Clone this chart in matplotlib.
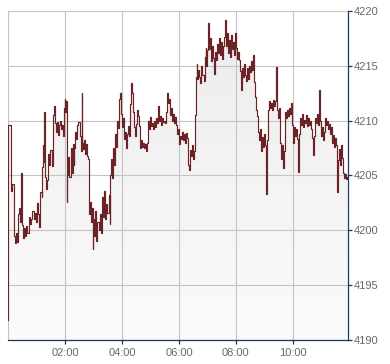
import numpy as np
import matplotlib
matplotlib.use("Agg")
import matplotlib.pyplot as plt
from matplotlib.colors import LinearSegmentedColormap

# minutes since 00:00 and index level
minutes = [0, 1, 6, 7, 9, 12, 13, 15, 17, 19, 21, 23, 25, 27, 29, 32, 34, 36, 38, 41,
           44, 46, 48, 51, 54, 57, 60, 62, 64, 66, 68, 71, 72, 74, 75, 76, 78, 81, 83, 85,
           87, 89, 92, 94, 95, 97, 99, 101, 103, 105, 107, 109, 111, 114, 115, 117, 119, 121, 123, 124,
           125, 127, 129, 132, 134, 136, 138, 140, 142, 144, 146, 148, 151, 153, 155, 156, 158, 160, 162, 164,
           166, 168, 170, 172, 174, 176, 178, 180, 182, 184, 186, 188, 191, 193, 195, 197, 199, 201, 203, 205,
           207, 209, 212, 214, 215, 217, 219, 221, 223, 225, 227, 229, 232, 234, 236, 238, 240, 242, 244, 246,
           248, 250, 253, 255, 257, 259, 261, 263, 265, 267, 269, 271, 274, 276, 278, 280, 282, 284, 286, 288,
           290, 293, 295, 297, 299, 301, 303, 305, 307, 309, 311, 314, 316, 318, 320, 322, 324, 326, 328, 330,
           333, 335, 337, 339, 341, 343, 345, 347, 349, 352, 354, 356, 358, 360, 362, 364, 366, 368, 370, 373,
           375, 377, 379, 381, 383, 385, 387, 389, 391, 394, 395, 397, 399, 401, 403, 405, 407, 409, 412, 414,
           416, 418, 420, 422, 423, 425, 427, 429, 432, 434, 436, 438, 440, 442, 444, 446, 448, 450, 453, 455,
           457, 459, 461, 463, 465, 467, 469, 471, 474, 476, 478, 480, 482, 484, 486, 488, 490, 492, 495, 497,
           499, 501, 503, 505, 507, 509, 511, 513, 516, 518, 520, 522, 524, 526, 528, 530, 532, 535, 537, 539,
           541, 543, 545, 547, 549, 551, 554, 556, 558, 560, 562, 564, 566, 568, 570, 573, 575, 577, 579, 581,
           583, 585, 587, 590, 592, 594, 596, 598, 600, 602, 604, 606, 608, 611, 613, 615, 617, 619, 621, 623,
           625, 627, 629, 632, 634, 636, 638, 640, 642, 644, 646, 648, 650, 653, 655, 657, 659, 661, 663, 665,
           667, 669, 672, 674, 676, 678, 680, 682, 684, 686, 688, 690, 693, 695, 697, 699, 701, 703, 705, 707,
           709, 711, 714]
level = [4191.8, 4209.6, 4204.9, 4203.6, 4204.2, 4203.8, 4199.5, 4198.8, 4199.8, 4198.9, 4201.5, 4202.0, 4200.8, 4205.2, 4200.5, 4199.3, 4200.2, 4199.5, 4200.4, 4199.8,
         4201.2, 4200.6, 4201.0, 4201.8, 4201.0, 4201.6, 4200.8, 4202.5, 4201.5, 4200.3, 4203.5, 4203.0, 4205.8, 4207.8, 4206.2, 4210.8, 4204.9, 4203.8, 4204.6, 4207.0,
         4206.0, 4207.3, 4205.9, 4206.6, 4210.5, 4211.3, 4209.8, 4209.0, 4209.9, 4208.7, 4209.6, 4210.0, 4209.2, 4209.6, 4208.6, 4211.2, 4212.0, 4210.8, 4211.8, 4202.6,
         4205.0, 4206.7, 4204.9, 4207.5, 4205.2, 4207.9, 4206.0, 4207.5, 4209.0, 4208.3, 4209.6, 4209.9, 4208.6, 4207.2, 4212.5, 4208.0, 4207.4, 4208.2, 4207.0, 4207.9,
         4206.8, 4206.5, 4201.5, 4202.6, 4200.8, 4202.0, 4198.3, 4201.0, 4199.5, 4201.8, 4199.0, 4200.8, 4200.0, 4201.5, 4199.8, 4200.5, 4203.0, 4201.2, 4203.6, 4201.0,
         4202.4, 4201.6, 4203.2, 4200.6, 4205.0, 4206.5, 4204.8, 4207.5, 4206.0, 4208.8, 4207.6, 4210.0, 4209.3, 4212.0, 4212.5, 4210.6, 4209.4, 4210.2, 4208.3, 4209.0,
         4207.5, 4208.8, 4209.5, 4208.6, 4211.5, 4213.4, 4212.5, 4210.8, 4209.4, 4208.6, 4209.7, 4211.0, 4210.4, 4209.5, 4207.5, 4208.2, 4207.6, 4208.0, 4207.5, 4207.9,
         4207.2, 4208.0, 4210.0, 4209.2, 4210.3, 4209.5, 4209.8, 4209.2, 4210.0, 4209.4, 4210.2, 4209.8, 4211.3, 4210.0, 4210.4, 4209.6, 4210.2, 4209.9, 4210.0, 4209.8,
         4210.8, 4212.5, 4211.6, 4212.0, 4210.5, 4211.2, 4210.0, 4210.6, 4209.8, 4210.3, 4209.6, 4208.8, 4209.2, 4207.9, 4208.6, 4208.3, 4209.0, 4208.2, 4208.8, 4208.0,
         4208.9, 4208.4, 4206.0, 4205.5, 4207.3, 4206.8, 4207.8, 4206.5, 4207.2, 4210.5, 4214.0, 4215.2, 4213.8, 4214.6, 4214.0, 4213.4, 4215.0, 4214.2, 4213.6, 4215.8,
         4216.6, 4215.0, 4216.4, 4218.9, 4216.5, 4217.5, 4215.4, 4216.8, 4215.7, 4214.3, 4216.3, 4215.5, 4217.0, 4216.2, 4217.5, 4216.0, 4217.2, 4215.6, 4216.8, 4217.6,
         4219.2, 4216.8, 4218.0, 4216.2, 4217.4, 4215.8, 4217.8, 4216.5, 4217.2, 4216.0, 4218.0, 4216.6, 4215.6, 4216.3, 4215.5, 4214.5, 4212.8, 4214.8, 4214.0, 4215.2,
         4214.2, 4213.6, 4214.8, 4213.8, 4215.0, 4214.4, 4215.4, 4214.6, 4216.0, 4213.5, 4212.2, 4211.0, 4210.4, 4209.0, 4208.2, 4209.2, 4207.2, 4208.5, 4207.6, 4208.8,
         4207.8, 4203.3, 4208.2, 4211.0, 4211.8, 4211.2, 4211.6, 4211.0, 4211.9, 4211.3, 4211.8, 4214.9, 4211.0, 4210.2, 4211.2, 4208.0, 4206.5, 4207.8, 4205.7, 4207.2,
         4210.8, 4210.2, 4211.0, 4210.4, 4211.2, 4210.6, 4211.6, 4209.6, 4208.0, 4209.4, 4208.6, 4209.2, 4208.3, 4205.3, 4208.8, 4210.2, 4209.6, 4210.6, 4209.4, 4210.1,
         4209.8, 4210.5, 4209.5, 4210.2, 4209.6, 4210.0, 4209.2, 4208.4, 4206.9, 4208.6, 4210.2, 4209.8, 4210.6, 4209.6, 4212.8, 4210.0, 4208.6, 4209.4, 4208.2, 4209.0,
         4210.2, 4209.6, 4210.0, 4209.2, 4209.7, 4208.8, 4209.4, 4208.0, 4208.7, 4207.6, 4208.4, 4207.8, 4203.5, 4206.4, 4207.4, 4206.0, 4207.8, 4206.6, 4205.2, 4204.8,
         4205.1, 4204.7, 4204.9]

x_ticks = [120, 240, 360, 480, 600]
x_labels = ["02:00", "04:00", "06:00", "08:00", "10:00"]
y_ticks = [4190, 4195, 4200, 4205, 4210, 4215, 4220]

navy = "#1c3766"
grey_txt = "#686868"
grid_c = "#c4c4c4"

fig = plt.figure(figsize=(3.9, 3.64), dpi=100)
ax = fig.add_axes([8 / 390, 24 / 364, 340 / 390, 329 / 364])
ax.set_xlim(0, 716)
ax.set_ylim(4190, 4220)

# gradient fill under the line
poly = ax.fill_between(minutes, level, 4190, step="post", facecolor="none", edgecolor="none")
cmap = LinearSegmentedColormap.from_list("g", ["#fbfbfb", "#ececec"])
grad = np.linspace(0, 1, 256).reshape(-1, 1)
img = ax.imshow(grad, extent=[0, 716, 4190, 4220], origin="lower", aspect="auto",
                cmap=cmap, zorder=1)
img.set_clip_path(poly.get_paths()[0], transform=ax.transData)

ax.plot(minutes, level, drawstyle="steps-post", color="#6b2327", lw=0.85, zorder=3)

ax.set_xticks(x_ticks)
ax.set_xticklabels(x_labels)
ax.set_yticks(y_ticks)
ax.yaxis.tick_right()
ax.set_axisbelow("line")
ax.grid(True, color=grid_c, lw=0.8)
ax.axvline(0, color=grid_c, lw=0.8)

for s in ["left", "top"]:
    ax.spines[s].set_visible(False)
for s in ["right", "bottom"]:
    ax.spines[s].set_color(navy)
    ax.spines[s].set_linewidth(0.9)
    ax.spines[s].set_zorder(4)

ax.tick_params(axis="both", colors=navy, length=3.2, width=0.9, labelcolor=grey_txt,
               labelsize=8)
ax.tick_params(axis="y", pad=0.8)
ax.tick_params(axis="x", pad=2.5)
for lab in ax.get_xticklabels() + ax.get_yticklabels():
    lab.set_family("Liberation Sans")

fig.savefig("out.png", dpi=100)
